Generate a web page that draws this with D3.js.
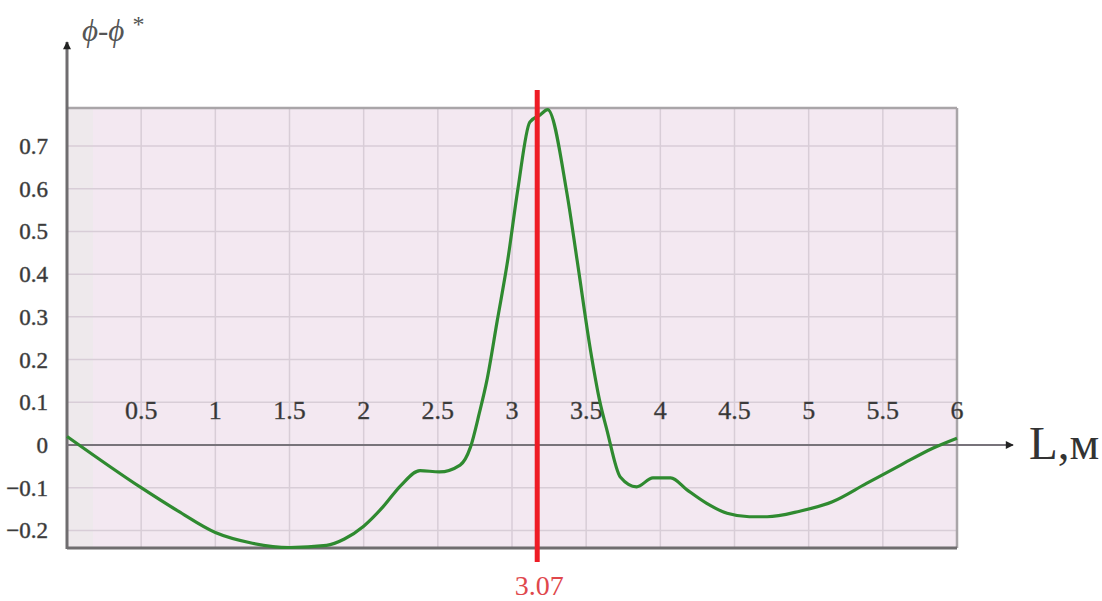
<!DOCTYPE html>
<html>
<head>
<meta charset="utf-8">
<script src="https://cdn.jsdelivr.net/npm/d3@7"></script>
<style>
  body { margin: 0; background: #fff; }
</style>
</head>
<body>
<script>
// curve: L (m) vs phi - phi*
const lValues = [0, 0.5, 0.75, 1.0, 1.25, 1.5, 1.75, 1.87, 2.0, 2.13, 2.25, 2.38, 2.51, 2.65, 2.72, 2.78, 2.83, 2.9, 2.97, 3.04, 3.12, 3.19, 3.24, 3.37, 3.44, 3.53, 3.59, 3.64, 3.73, 3.84, 3.95, 4.07, 4.18, 4.31, 4.45, 4.6, 4.72, 4.94, 5.16, 5.39, 5.62, 5.84, 6.0];
const phiValues = [0.02, -0.10, -0.155, -0.205, -0.23, -0.24, -0.235, -0.22, -0.19, -0.145, -0.095, -0.06, -0.063, -0.047, -0.005, 0.075, 0.15, 0.29, 0.43, 0.6, 0.756, 0.773, 0.785, 0.59, 0.43, 0.22, 0.105, 0.035, -0.075, -0.098, -0.077, -0.077, -0.105, -0.136, -0.16, -0.168, -0.168, -0.155, -0.133, -0.09, -0.047, -0.007, 0.016];

const xTicks = [0.5, 1, 1.5, 2, 2.5, 3, 3.5, 4, 4.5, 5, 5.5, 6];
const yTicks = [0.7, 0.6, 0.5, 0.4, 0.3, 0.2, 0.1, 0, -0.1, -0.2];
const markerL = 3.17;
const markerLabel = "3.07";

const svgWidth = 1102;
const svgHeight = 601;
const plot = {left: 67, top: 108, right: 957, bottom: 548};
const serif = "'Liberation Serif', 'Times New Roman', Times, serif";

const x = d3.scaleLinear().domain([0, 6]).range([plot.left, plot.right]);
const y = d3.scaleLinear().domain([0, 0.7]).range([445, 146]);

const svg = d3.select("body").append("svg")
    .attr("width", svgWidth)
    .attr("height", svgHeight)
    .attr("font-family", serif);

const defs = svg.append("defs");
defs.append("marker")
    .attr("id", "arrow")
    .attr("viewBox", "0 0 10 10")
    .attr("refX", 9).attr("refY", 5)
    .attr("markerWidth", 10).attr("markerHeight", 8)
    .attr("markerUnits", "userSpaceOnUse")
    .attr("orient", "auto")
    .append("path")
    .attr("d", "M0,0 L10,5 L0,10 Z")
    .style("fill", "#222");

// plot background
svg.append("rect")
    .attr("x", plot.left).attr("y", plot.top)
    .attr("width", plot.right - plot.left).attr("height", plot.bottom - plot.top)
    .style("fill", "#f3e8f1");
svg.append("rect")
    .attr("x", plot.left).attr("y", plot.top)
    .attr("width", 26).attr("height", plot.bottom - plot.top)
    .style("fill", "#eee9ec");

// grid
svg.append("g").selectAll("line")
    .data(yTicks.filter(d => d !== 0))
    .join("line")
    .attr("x1", plot.left).attr("x2", plot.right)
    .attr("y1", d => y(d)).attr("y2", d => y(d))
    .style("stroke", "#d8cdd7")
    .style("stroke-width", 1.5);

svg.append("g").selectAll("line")
    .data(xTicks.filter(d => d !== 6))
    .join("line")
    .attr("x1", d => x(d)).attr("x2", d => x(d))
    .attr("y1", plot.top).attr("y2", plot.bottom)
    .style("stroke", "#d8cdd7")
    .style("stroke-width", 1.5);

// frame
svg.append("line")
    .attr("x1", plot.left).attr("x2", plot.right)
    .attr("y1", plot.top).attr("y2", plot.top)
    .style("stroke", "#a9a5a8").style("stroke-width", 2.5);
svg.append("line")
    .attr("x1", plot.right).attr("x2", plot.right)
    .attr("y1", plot.top).attr("y2", plot.bottom)
    .style("stroke", "#a9a5a8").style("stroke-width", 2.5);
svg.append("line")
    .attr("x1", plot.left).attr("x2", plot.right)
    .attr("y1", plot.bottom).attr("y2", plot.bottom)
    .style("stroke", "#6f6d6f").style("stroke-width", 3);

// y axis with arrow
svg.append("line")
    .attr("x1", plot.left).attr("x2", plot.left)
    .attr("y1", plot.bottom + 1).attr("y2", 42)
    .attr("marker-end", "url(#arrow)")
    .style("stroke", "#6f6d6f").style("stroke-width", 3);

// zero line / x axis with arrow
svg.append("line")
    .attr("x1", plot.left).attr("x2", 1013)
    .attr("y1", y(0)).attr("y2", y(0))
    .attr("marker-end", "url(#arrow)")
    .style("stroke", "#77737a").style("stroke-width", 2);

// tick labels
svg.append("g").selectAll("text")
    .data(yTicks)
    .join("text")
    .attr("x", 48)
    .attr("y", d => y(d))
    .attr("dy", "0.35em")
    .attr("text-anchor", "end")
    .style("font-family", serif)
    .style("font-size", "23px")
    .style("fill", "#333")
    .style("stroke", "#555")
    .style("stroke-width", 0.5)
    .text(d => d3.format("")(d));

svg.append("g").selectAll("text")
    .data(xTicks)
    .join("text")
    .attr("x", d => x(d))
    .attr("y", 419)
    .attr("text-anchor", "middle")
    .style("font-family", serif)
    .style("font-size", "26px")
    .style("fill", "#333")
    .style("stroke", "#555")
    .style("stroke-width", 0.4)
    .text(d => d);

// curve
const points = lValues.map((l, i) => [l, phiValues[i]]);
const line = d3.line()
    .x(d => x(d[0]))
    .y(d => y(d[1]))
    .curve(d3.curveMonotoneX);

svg.append("path")
    .datum(points)
    .attr("d", line)
    .style("fill", "none")
    .style("stroke", "#2f8a30")
    .style("stroke-width", 3.2)
    .style("stroke-linejoin", "round");

// red marker
svg.append("line")
    .attr("x1", x(markerL)).attr("x2", x(markerL))
    .attr("y1", 90).attr("y2", 562)
    .style("stroke", "#ee1c25")
    .style("stroke-width", 5);

svg.append("text")
    .attr("x", x(markerL) + 2)
    .attr("y", 595)
    .attr("text-anchor", "middle")
    .style("font-family", serif)
    .style("font-size", "28px")
    .style("fill", "#e0474c")
    .text(markerLabel);

// axis titles
const yTitle = svg.append("text")
    .attr("x", 82)
    .attr("y", 41)
    .style("font-family", serif)
    .style("font-size", "31px")
    .style("font-style", "italic")
    .style("fill", "#555");
yTitle.append("tspan").text("ϕ-ϕ");
yTitle.append("tspan").attr("dx", 8).attr("dy", -9)
    .style("font-style", "normal").style("font-size", "24px").text("*");

svg.append("text")
    .attr("x", 1029)
    .attr("y", 459)
    .style("font-family", serif)
    .style("font-size", "47px")
    .style("fill", "#333")
    .text("L,м");
</script>
</body>
</html>
